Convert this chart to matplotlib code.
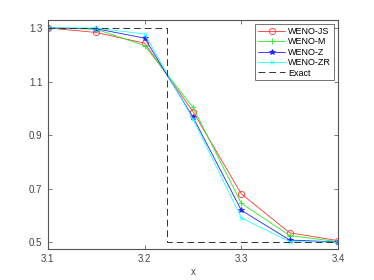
import numpy as np
import matplotlib
matplotlib.use('Agg')
import matplotlib.pyplot as plt

# data
x = [3.1, 3.15, 3.2, 3.25, 3.3, 3.35, 3.4]
weno_js = [1.300, 1.283, 1.243, 0.988, 0.681, 0.536, 0.507]
weno_m = [1.300, 1.295, 1.234, 1.004, 0.646, 0.526, 0.503]
weno_z = [1.300, 1.297, 1.262, 0.967, 0.620, 0.509, 0.502]
weno_zr = [1.300, 1.300, 1.277, 0.960, 0.592, 0.503, 0.501]
x_exact = [3.1, 3.223, 3.223, 3.4]
y_exact = [1.3, 1.3, 0.5, 0.5]

plt.rcParams['font.family'] = ['Liberation Sans', 'DejaVu Sans']
plt.rcParams['font.size'] = 7

fig = plt.figure(figsize=(3.74, 2.8), dpi=100)
ax = fig.add_axes([0.128, 0.111, 0.776, 0.818])

lw = 0.6
ax.plot(x, weno_js, color='#ff3333', marker='o', mfc='none', ms=4.5, lw=lw, mew=0.6, label='WENO-JS')
ax.plot(x, weno_m, color='#22ee22', marker='+', ms=4.5, lw=lw, mew=0.6, label='WENO-M')
ax.plot(x, weno_z, color='#2222ff', marker='*', ms=4, lw=lw, mew=0.6, label='WENO-Z')
ax.plot(x, weno_zr, color='#22ffff', marker='x', ms=3.5, lw=lw, mew=0.6, label='WENO-ZR')
ax.plot(x_exact, y_exact, color='#333333', ls=(0, (7, 4)), lw=0.7, label='Exact')

ax.set_xlim(3.1, 3.4)
ax.set_ylim(0.476, 1.33)
ax.set_xticks([3.1, 3.2, 3.3, 3.4])
ax.set_yticks([0.5, 0.7, 0.9, 1.1, 1.3])
ax.set_xlabel('x', color='#444444', labelpad=2)

for s in ax.spines.values():
    s.set_color('#555555')
    s.set_linewidth(0.8)
ax.tick_params(direction='in', top=True, right=True, length=3, width=0.6,
               colors='#666666', labelcolor='#444444', pad=4)

leg = ax.legend(loc='upper right', fontsize=6.5, frameon=True, fancybox=False,
                edgecolor='#333333', handlelength=3.0, borderpad=0.3,
                labelspacing=0.15, handletextpad=0.3, borderaxespad=0.5)
leg.get_frame().set_linewidth(0.6)

fig.savefig('out.png', dpi=100)
